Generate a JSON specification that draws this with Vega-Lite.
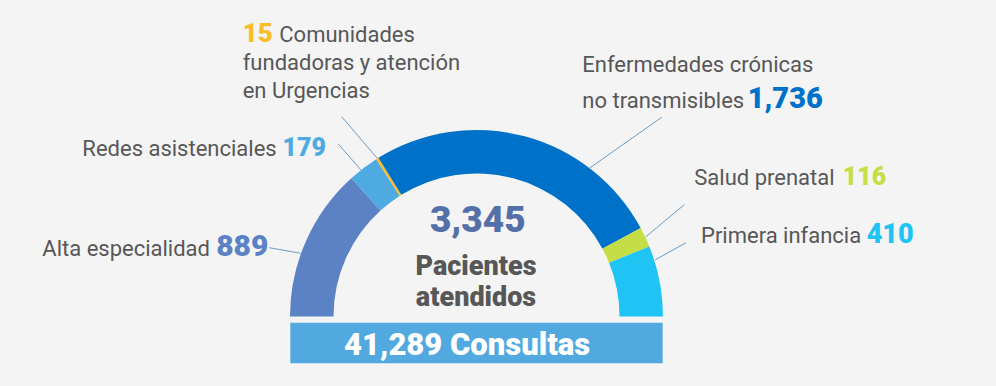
{
  "$schema": "https://vega.github.io/schema/vega-lite/v6.json",
  "width": 996,
  "height": 386,
  "autosize": {"type": "none"},
  "padding": 0,
  "background": "#f4f4f4",
  "config": {
    "view": {"stroke": null},
    "axis": {"disable": true},
    "text": {"font": "Roboto"}
  },
  "datasets": {
    "segmentos": [
      {"rank": 1, "serie": "Alta especialidad", "label": "Alta especialidad", "value": 889},
      {"rank": 2, "serie": "Redes asistenciales", "label": "Redes asistenciales", "value": 179},
      {"rank": 3, "serie": "Comunidades fundadoras y atención en Urgencias", "label": "Comunidades", "label2": "fundadoras y atención\nen Urgencias", "value": 15},
      {"rank": 4, "serie": "Enfermedades crónicas no transmisibles", "label": "Enfermedades crónicas\nno transmisibles", "value": 1736},
      {"rank": 5, "serie": "Salud prenatal", "label": "Salud prenatal", "value": 116},
      {"rank": 6, "serie": "Primera infancia", "label": "Primera infancia", "value": 410}
    ],
    "totales": [{"pacientes": 3345, "consultas": 41289}]
  },
  "layer": [
    {
      "data": {"name": "segmentos"},
      "mark": {"type": "arc", "innerRadius": 143, "outerRadius": 186.5},
      "encoding": {
        "x": {"datum": 0, "type": "quantitative", "scale": {"domain": [-476.5, 519.5], "nice": false, "zero": false}, "axis": null},
        "y": {"datum": 0, "type": "quantitative", "scale": {"domain": [-69.5, 316.5], "nice": false, "zero": false}, "axis": null},
        "theta": {"field": "value", "type": "quantitative", "stack": true, "scale": {"range": [-1.5707963, 1.5707963]}},
        "order": {"field": "rank", "type": "quantitative"},
        "color": {
          "field": "serie", "type": "nominal", "legend": null,
          "scale": {
            "domain": ["Alta especialidad", "Redes asistenciales", "Comunidades fundadoras y atención en Urgencias", "Enfermedades crónicas no transmisibles", "Salud prenatal", "Primera infancia"],
            "range": ["#5a82c5", "#4faae2", "#f9bd2a", "#0071c9", "#c5de46", "#20c4f4"]
          }
        }
      }
    },
    {
      "data": {"name": "segmentos"},
      "transform": [{"filter": "datum.rank == 1"}],
      "mark": {"type": "rule", "color": "#6b9cc3", "strokeWidth": 1},
      "encoding": {"x": {"datum": -207.2}, "y": {"datum": 68.8}, "x2": {"datum": -175.8}, "y2": {"datum": 63.2}}
    },
    {
      "data": {"name": "segmentos"},
      "transform": [{"filter": "datum.rank == 2"}],
      "mark": {"type": "rule", "color": "#6b9cc3", "strokeWidth": 1},
      "encoding": {"x": {"datum": -138.2}, "y": {"datum": 172.5}, "x2": {"datum": -115.5}, "y2": {"datum": 146.5}}
    },
    {
      "data": {"name": "segmentos"},
      "transform": [{"filter": "datum.rank == 3"}],
      "mark": {"type": "rule", "color": "#6b9cc3", "strokeWidth": 1},
      "encoding": {"x": {"datum": -134.8}, "y": {"datum": 199.8}, "x2": {"datum": -99.1}, "y2": {"datum": 158.0}}
    },
    {
      "data": {"name": "segmentos"},
      "transform": [{"filter": "datum.rank == 4"}],
      "mark": {"type": "rule", "color": "#6b9cc3", "strokeWidth": 1},
      "encoding": {"x": {"datum": 185.2}, "y": {"datum": 199.2}, "x2": {"datum": 112.8}, "y2": {"datum": 148.2}}
    },
    {
      "data": {"name": "segmentos"},
      "transform": [{"filter": "datum.rank == 5"}],
      "mark": {"type": "rule", "color": "#6b9cc3", "strokeWidth": 1},
      "encoding": {"x": {"datum": 208}, "y": {"datum": 112}, "x2": {"datum": 169.2}, "y2": {"datum": 79.6}}
    },
    {
      "data": {"name": "segmentos"},
      "transform": [{"filter": "datum.rank == 6"}],
      "mark": {"type": "rule", "color": "#6b9cc3", "strokeWidth": 1},
      "encoding": {"x": {"datum": 209.5}, "y": {"datum": 73.8}, "x2": {"datum": 178.5}, "y2": {"datum": 56.5}}
    },
    {
      "data": {"name": "segmentos"},
      "transform": [{"filter": "datum.rank == 1"}],
      "mark": {"type": "text", "align": "right", "baseline": "alphabetic", "fontSize": 22, "color": "#575757"},
      "encoding": {"x": {"datum": -266.5}, "y": {"datum": 60.5}, "text": {"field": "label"}}
    },
    {
      "data": {"name": "segmentos"},
      "transform": [{"filter": "datum.rank == 1"}],
      "mark": {"type": "text", "align": "right", "baseline": "alphabetic", "fontSize": 30, "fontWeight": 900},
      "encoding": {"x": {"datum": -208.2}, "y": {"datum": 60.5}, "text": {"field": "value", "type": "quantitative", "format": ","}, "color": {"field": "serie", "type": "nominal", "legend": null}}
    },
    {
      "data": {"name": "segmentos"},
      "transform": [{"filter": "datum.rank == 2"}],
      "mark": {"type": "text", "align": "right", "baseline": "alphabetic", "fontSize": 22, "color": "#575757"},
      "encoding": {"x": {"datum": -199.8}, "y": {"datum": 160.5}, "text": {"field": "label"}}
    },
    {
      "data": {"name": "segmentos"},
      "transform": [{"filter": "datum.rank == 2"}],
      "mark": {"type": "text", "align": "right", "baseline": "alphabetic", "fontSize": 25, "fontWeight": 900},
      "encoding": {"x": {"datum": -150.5}, "y": {"datum": 160.5}, "text": {"field": "value", "type": "quantitative", "format": ","}, "color": {"field": "serie", "type": "nominal", "legend": null}}
    },
    {
      "data": {"name": "segmentos"},
      "transform": [{"filter": "datum.rank == 3"}],
      "mark": {"type": "text", "align": "left", "baseline": "alphabetic", "fontSize": 26, "fontWeight": 900},
      "encoding": {"x": {"datum": -233.8}, "y": {"datum": 274.8}, "text": {"field": "value", "type": "quantitative", "format": ","}, "color": {"field": "serie", "type": "nominal", "legend": null}}
    },
    {
      "data": {"name": "segmentos"},
      "transform": [{"filter": "datum.rank == 3"}],
      "mark": {"type": "text", "align": "left", "baseline": "alphabetic", "fontSize": 22, "color": "#575757"},
      "encoding": {"x": {"datum": -197.2}, "y": {"datum": 274.8}, "text": {"field": "label"}}
    },
    {
      "data": {"name": "segmentos"},
      "transform": [{"filter": "datum.rank == 3"}],
      "mark": {"type": "text", "align": "left", "baseline": "alphabetic", "fontSize": 22, "color": "#575757", "lineBreak": "\n", "lineHeight": 28.3},
      "encoding": {"x": {"datum": -233.8}, "y": {"datum": 246.5}, "text": {"field": "label2"}}
    },
    {
      "data": {"name": "segmentos"},
      "transform": [{"filter": "datum.rank == 4"}],
      "mark": {"type": "text", "align": "left", "baseline": "alphabetic", "fontSize": 22, "color": "#575757", "lineBreak": "\n", "lineHeight": 36.6},
      "encoding": {"x": {"datum": 105.8}, "y": {"datum": 244.8}, "text": {"field": "label"}}
    },
    {
      "data": {"name": "segmentos"},
      "transform": [{"filter": "datum.rank == 4"}],
      "mark": {"type": "text", "align": "left", "baseline": "alphabetic", "fontSize": 29, "fontWeight": 900},
      "encoding": {"x": {"datum": 271.2}, "y": {"datum": 208.2}, "text": {"field": "value", "type": "quantitative", "format": ","}, "color": {"field": "serie", "type": "nominal", "legend": null}}
    },
    {
      "data": {"name": "segmentos"},
      "transform": [{"filter": "datum.rank == 5"}],
      "mark": {"type": "text", "align": "left", "baseline": "alphabetic", "fontSize": 22, "color": "#575757"},
      "encoding": {"x": {"datum": 217.8}, "y": {"datum": 131.5}, "text": {"field": "label"}}
    },
    {
      "data": {"name": "segmentos"},
      "transform": [{"filter": "datum.rank == 5"}],
      "mark": {"type": "text", "align": "left", "baseline": "alphabetic", "fontSize": 25, "fontWeight": 900},
      "encoding": {"x": {"datum": 366.2}, "y": {"datum": 131.5}, "text": {"field": "value", "type": "quantitative", "format": ","}, "color": {"field": "serie", "type": "nominal", "legend": null}}
    },
    {
      "data": {"name": "segmentos"},
      "transform": [{"filter": "datum.rank == 6"}],
      "mark": {"type": "text", "align": "left", "baseline": "alphabetic", "fontSize": 22, "color": "#575757"},
      "encoding": {"x": {"datum": 224.5}, "y": {"datum": 73.2}, "text": {"field": "label"}}
    },
    {
      "data": {"name": "segmentos"},
      "transform": [{"filter": "datum.rank == 6"}],
      "mark": {"type": "text", "align": "left", "baseline": "alphabetic", "fontSize": 27, "fontWeight": 900},
      "encoding": {"x": {"datum": 390.2}, "y": {"datum": 73.2}, "text": {"field": "value", "type": "quantitative", "format": ","}, "color": {"field": "serie", "type": "nominal", "legend": null}}
    },
    {
      "data": {"name": "totales"},
      "mark": {"type": "text", "align": "center", "baseline": "alphabetic", "fontSize": 37, "fontWeight": 900, "color": "#5470a8"},
      "encoding": {"x": {"datum": 1.3}, "y": {"datum": 84.2}, "text": {"field": "pacientes", "type": "quantitative", "format": ","}}
    },
    {
      "data": {"name": "totales"},
      "mark": {"type": "text", "align": "center", "baseline": "alphabetic", "fontSize": 27, "fontWeight": 900, "color": "#575757"},
      "encoding": {"x": {"datum": -0.5}, "y": {"datum": 42}, "text": {"value": "Pacientes"}}
    },
    {
      "data": {"name": "totales"},
      "mark": {"type": "text", "align": "center", "baseline": "alphabetic", "fontSize": 27, "fontWeight": 900, "color": "#575757"},
      "encoding": {"x": {"datum": -0.5}, "y": {"datum": 10.5}, "text": {"value": "atendidos"}}
    },
    {
      "data": {"name": "totales"},
      "mark": {"type": "rect", "color": "#52a9e0"},
      "encoding": {"x": {"datum": -186.2}, "x2": {"datum": 186.2}, "y": {"datum": -6.2}, "y2": {"datum": -46.8}}
    },
    {
      "data": {"name": "totales"},
      "mark": {"type": "text", "align": "right", "baseline": "alphabetic", "fontSize": 31, "fontWeight": 900, "color": "#ffffff"},
      "encoding": {"x": {"datum": -34.2}, "y": {"datum": -38.5}, "text": {"field": "consultas", "type": "quantitative", "format": ","}}
    },
    {
      "data": {"name": "totales"},
      "mark": {"type": "text", "align": "left", "baseline": "alphabetic", "fontSize": 31, "fontWeight": 900, "color": "#ffffff"},
      "encoding": {"x": {"datum": -26.5}, "y": {"datum": -38.5}, "text": {"value": "Consultas"}}
    }
  ]
}
